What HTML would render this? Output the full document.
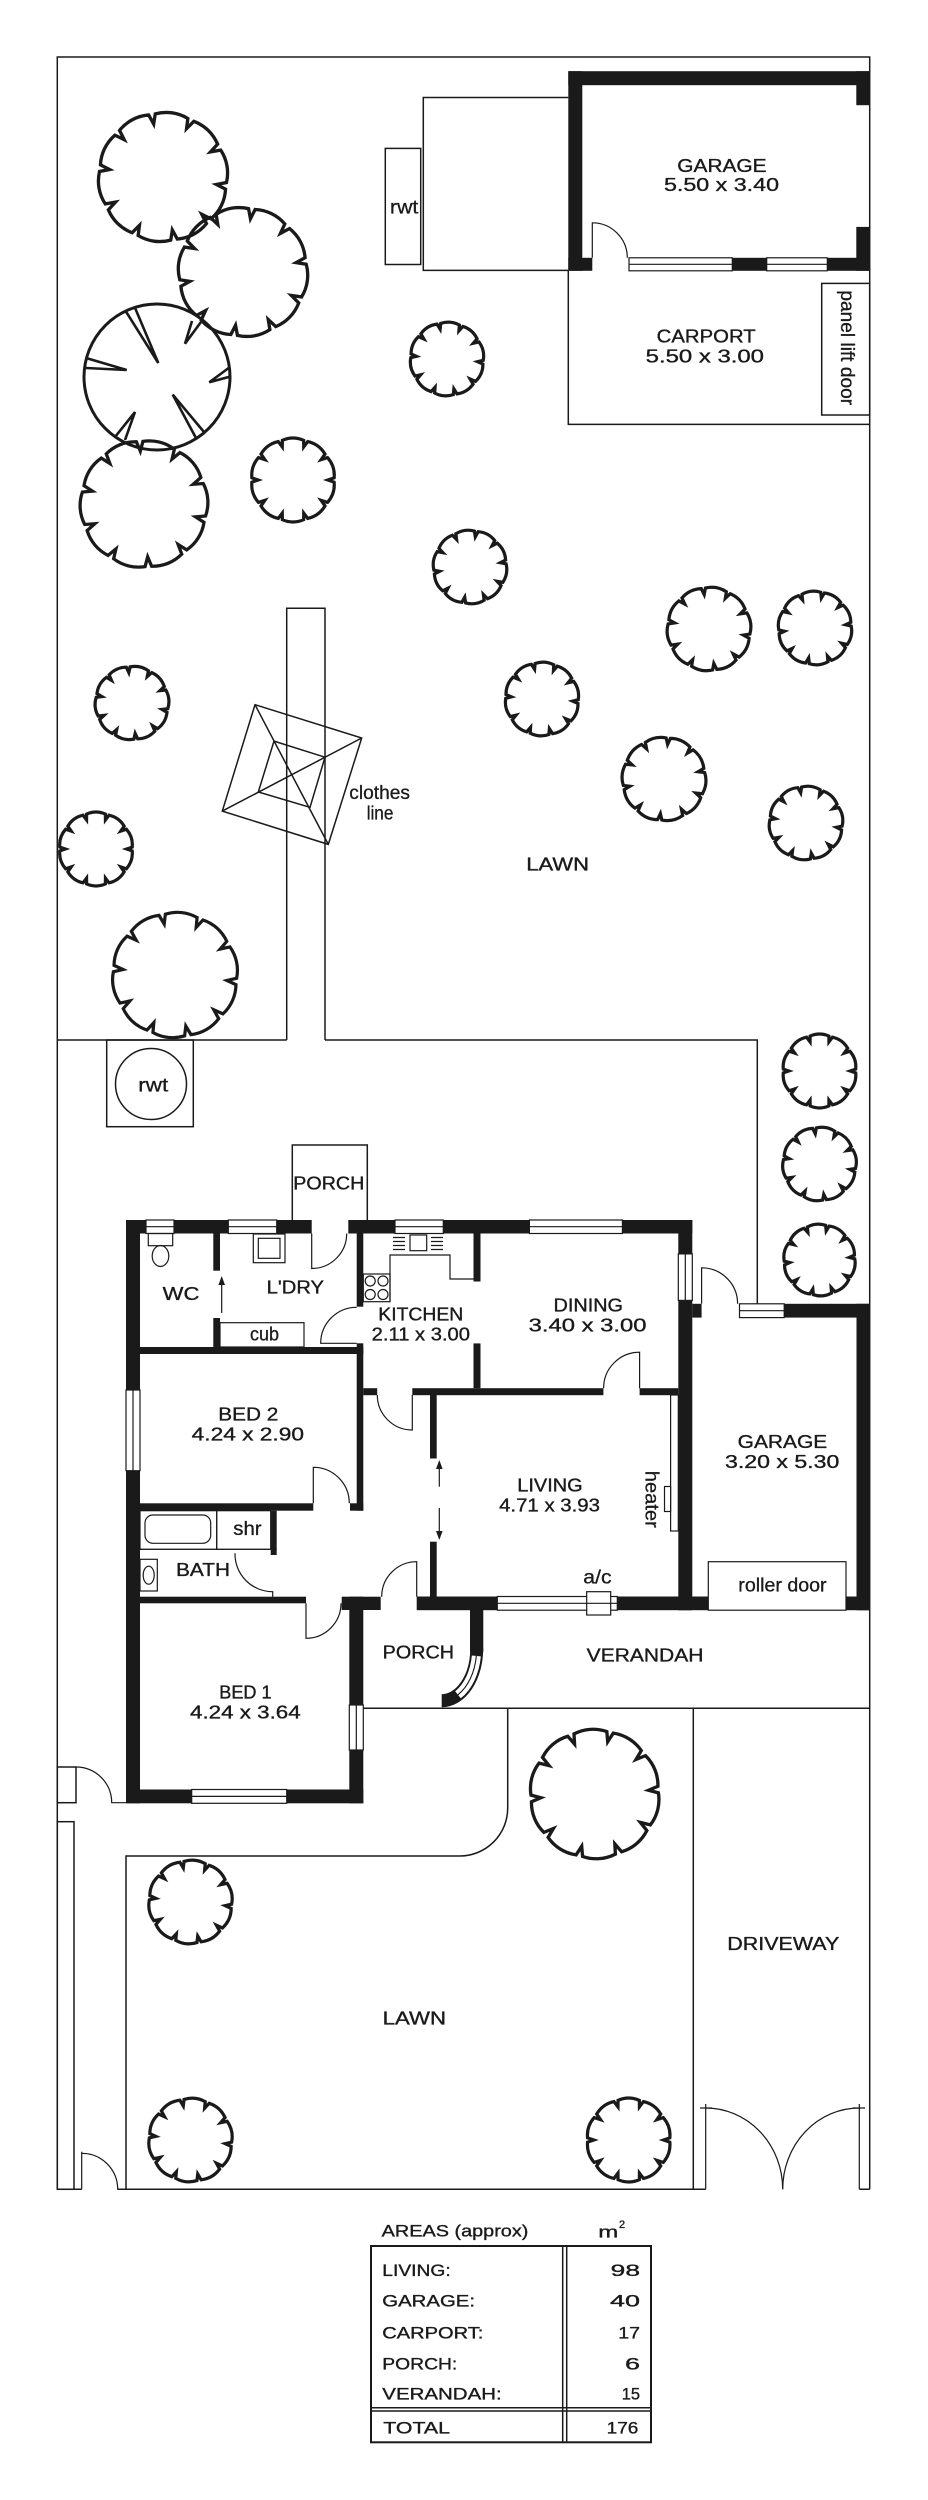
<!DOCTYPE html>
<html>
<head>
<meta charset="utf-8">
<style>
html,body{margin:0;padding:0;background:#fff;}
svg{display:block;}
.t{font-family:"Liberation Sans",sans-serif;font-size:18px;fill:#1a1a1a;stroke:#1a1a1a;stroke-width:0.35;}
.s{font-family:"Liberation Sans",sans-serif;font-size:19px;fill:#1a1a1a;stroke:#1a1a1a;stroke-width:0.3;}
.tb{font-family:"Liberation Sans",sans-serif;font-size:17px;fill:#1a1a1a;stroke:#1a1a1a;stroke-width:0.35;}
.ln{fill:none;stroke:#1a1a1a;stroke-width:1.5;}
.th{fill:none;stroke:#1a1a1a;stroke-width:1.2;}
.w{fill:#1a1a1a;}
.win{fill:#fff;stroke:#1a1a1a;stroke-width:1.2;}
</style>
</head>
<body>
<svg width="928" height="2500" viewBox="0 0 928 2500" xmlns="http://www.w3.org/2000/svg">
<defs>
<path id="tr" fill="none" stroke="#1a1a1a" stroke-linejoin="miter" d="M46,2.4 A30,30 0 0 1 38.6,25.1 L31.5,22.8 L35.8,29 A30,30 0 0 1 16.5,43 L12,37 L11.9,44.4 A30,30 0 0 1 -11.9,44.4 L-12,37 L-16.5,43 A30,30 0 0 1 -35.8,29 L-31.5,22.8 L-38.6,25.1 A30,30 0 0 1 -46,2.4 L-39,0 L-46,-2.4 A30,30 0 0 1 -38.6,-25.1 L-31.5,-22.8 L-35.8,-29 A30,30 0 0 1 -16.5,-43 L-12,-37 L-11.9,-44.4 A30,30 0 0 1 11.9,-44.4 L12,-37 L16.5,-43 A30,30 0 0 1 35.8,-29 L31.5,-22.8 L38.6,-25.1 A30,30 0 0 1 46,-2.4 L39,0 Z"/>
</defs>

<!-- Boundary -->
<path class="ln" d="M57.3,2189.3 V57 H869.7 V2189.3"/>

<!-- Rear garage -->
<rect class="w" x="568.3" y="71.2" width="301.4" height="14"/>
<rect class="w" x="568.3" y="71.2" width="14" height="199.6"/>
<rect class="w" x="856.3" y="71.2" width="13.4" height="34"/>
<rect class="w" x="856.3" y="226.9" width="13.4" height="43.9"/>
<rect class="w" x="568.3" y="257.8" width="24" height="13"/>
<rect class="w" x="629" y="257.8" width="240.7" height="13"/>
<rect class="win" x="629" y="257.8" width="103.3" height="13"/>
<line class="th" x1="629" y1="264.3" x2="732.3" y2="264.3"/>
<rect class="win" x="766.7" y="257.8" width="60.6" height="13"/>
<line class="th" x1="766.7" y1="264.3" x2="827.3" y2="264.3"/>
<path class="th" d="M592.3,257.8 V222.8 A35,35 0 0 1 627.3,257.8"/>
<text class="t" x="677.3" y="171.9" textLength="89.3" lengthAdjust="spacingAndGlyphs">GARAGE</text>
<text class="t" x="664" y="191" textLength="115" lengthAdjust="spacingAndGlyphs">5.50 x 3.40</text>

<!-- rear structure + rwt -->
<path class="ln" d="M568.3,97.5 H423.3 V270.4 H568.3"/>
<rect class="ln" x="385.3" y="148.4" width="35.4" height="116.1"/>
<text class="s" x="390" y="213.5" textLength="28.3" lengthAdjust="spacingAndGlyphs">rwt</text>

<!-- Carport -->
<path class="ln" d="M568.3,270.8 V424.4 H869.7"/>
<rect class="ln" x="821.7" y="283.4" width="48" height="131.6"/>
<text class="s" transform="translate(841,290.4) rotate(90)" x="0" y="0" textLength="114.7" lengthAdjust="spacingAndGlyphs">panel lift door</text>
<text class="t" x="656.7" y="342.7" textLength="99" lengthAdjust="spacingAndGlyphs">CARPORT</text>
<text class="t" x="645.7" y="362.3" textLength="118.3" lengthAdjust="spacingAndGlyphs">5.50 x 3.00</text>

<!-- path, lawn lines -->
<path class="ln" d="M286.7,1040 V608.3 H325 V1040"/>
<path class="ln" d="M57.3,1040 H286.7"/>
<path class="ln" d="M325,1040 H757.3 V1304"/>

<!-- rwt box -->
<rect class="ln" x="106.7" y="1040" width="86.6" height="86.7"/>
<circle class="ln" cx="151" cy="1084" r="35.5"/>
<text class="s" x="138.3" y="1091.7" textLength="30" lengthAdjust="spacingAndGlyphs">rwt</text>

<!-- clothes line -->
<polygon class="ln" points="255,704.7 361.7,738 328.3,844.4 222.3,811.1"/>
<polygon class="ln" points="274,741.1 325,757.2 310,807.3 258.3,792"/>
<line class="ln" x1="255" y1="704.7" x2="328.3" y2="844.4"/>
<line class="ln" x1="361.7" y1="738" x2="222.3" y2="811.1"/>
<text class="s" x="349.3" y="799" textLength="60.7" lengthAdjust="spacingAndGlyphs">clothes</text>
<text class="s" x="366.7" y="819.5" textLength="26.7" lengthAdjust="spacingAndGlyphs">line</text>

<text class="t" x="526.3" y="870.5" textLength="62.7" lengthAdjust="spacingAndGlyphs">LAWN</text>

<!-- Trees rear -->
<use href="#tr" transform="translate(163,177) scale(1.383) rotate(8)" stroke-width="2.4"/>
<use href="#tr" transform="translate(243,272) scale(1.383) rotate(-10)" stroke-width="2.4"/>
<use href="#tr" transform="translate(144,504) scale(1.362) rotate(14)" stroke-width="2.4"/>
<use href="#tr" transform="translate(293,480) scale(0.894)" stroke-width="3.6"/>
<use href="#tr" transform="translate(447,359) scale(0.787) rotate(5)" stroke-width="4.1"/>
<use href="#tr" transform="translate(470,567) scale(0.787) rotate(-8)" stroke-width="4.1"/>
<use href="#tr" transform="translate(132,703) scale(0.787) rotate(12)" stroke-width="4.1"/>
<use href="#tr" transform="translate(96,849) scale(0.787)" stroke-width="4.1"/>
<use href="#tr" transform="translate(175,975) scale(1.34) rotate(6)" stroke-width="2.4"/>
<use href="#tr" transform="translate(709,629) scale(0.894) rotate(10)" stroke-width="3.6"/>
<use href="#tr" transform="translate(815,628) scale(0.787) rotate(-6)" stroke-width="4.1"/>
<use href="#tr" transform="translate(542,699) scale(0.787) rotate(4)" stroke-width="4.1"/>
<use href="#tr" transform="translate(664,779) scale(0.894) rotate(-12)" stroke-width="3.6"/>
<use href="#tr" transform="translate(806,823) scale(0.787) rotate(8)" stroke-width="4.1"/>
<use href="#tr" transform="translate(819.5,1071) scale(0.787)" stroke-width="4.1"/>
<use href="#tr" transform="translate(819.5,1164) scale(0.787) rotate(10)" stroke-width="4.1"/>
<use href="#tr" transform="translate(819.5,1260) scale(0.766) rotate(-5)" stroke-width="4.2"/>

<!-- Lily tree -->
<circle cx="157" cy="377" r="73" fill="none" stroke="#1a1a1a" stroke-width="3"/>
<g fill="none" stroke="#1a1a1a" stroke-width="2.6" stroke-linejoin="miter">
<polyline points="125.6,311 158.3,363 134.4,306.4"/>
<polyline points="192,321 185,343.7 201,322"/>
<polyline points="86,358 126.7,370 86,368"/>
<polyline points="230,367 209.3,382.3 230,376.6"/>
<polyline points="196,438 172.7,394.6 204,432"/>
<polyline points="115,437 135,412 125,440"/>
</g>

<!-- ================= HOUSE ================= -->
<!-- rear porch -->
<path class="ln" d="M292.3,1220 V1145 H367.3 V1220"/>
<text class="t" x="293.3" y="1189.3" textLength="71" lengthAdjust="spacingAndGlyphs">PORCH</text>

<!-- exterior walls -->
<rect class="w" x="126" y="1220" width="185.7" height="13.5"/>
<rect class="w" x="348.3" y="1220" width="344" height="13.5"/>
<rect class="w" x="678.3" y="1220" width="14" height="390.3"/>
<rect class="w" x="692.3" y="1303.8" width="9.3" height="13.8"/>
<rect class="w" x="739.5" y="1303.8" width="130.5" height="13.8"/>
<rect class="w" x="856.5" y="1303.8" width="13.5" height="306.5"/>
<rect class="w" x="416.7" y="1596.5" width="453.3" height="13.7"/>
<rect class="w" x="341.7" y="1596.7" width="39" height="13.3"/>
<rect class="w" x="126" y="1220" width="14" height="583.3"/>
<rect class="w" x="126" y="1789.5" width="237.3" height="13.8"/>
<rect class="w" x="349.3" y="1596.7" width="14" height="206.6"/>
<rect class="w" x="470" y="1596.5" width="13.3" height="55.2"/>
<!-- curved porch wall -->
<path d="M476.7,1648 A35,52 0 0 1 441.7,1700.7" fill="none" stroke="#1a1a1a" stroke-width="13"/>
<path d="M476.7,1648 A35,52 0 0 1 441.7,1700.7" fill="none" stroke="#fff" stroke-width="9" stroke-dasharray="0 8 44 100"/>
<path d="M476.7,1648 A35,52 0 0 1 441.7,1700.7" fill="none" stroke="#1a1a1a" stroke-width="1.1" stroke-dasharray="0 8 44 100"/>

<!-- windows -->
<rect class="win" x="146" y="1220" width="28" height="13.5"/><line class="th" x1="146" y1="1226.7" x2="174" y2="1226.7"/>
<rect class="win" x="228.3" y="1220" width="48.4" height="13.5"/><line class="th" x1="228.3" y1="1226.7" x2="276.7" y2="1226.7"/>
<rect class="win" x="395" y="1220" width="48.3" height="13.5"/><line class="th" x1="395" y1="1226.7" x2="443.3" y2="1226.7"/>
<rect class="win" x="529.4" y="1220" width="93" height="13.5"/><line class="th" x1="529.4" y1="1226.7" x2="622.4" y2="1226.7"/>
<rect class="win" x="678.3" y="1253.9" width="14" height="46.5"/><line class="th" x1="685.3" y1="1253.9" x2="685.3" y2="1300.4"/>
<rect class="win" x="739.5" y="1303.8" width="44.7" height="13.8"/><line class="th" x1="739.5" y1="1310.7" x2="784.2" y2="1310.7"/>
<rect class="win" x="497.3" y="1596.5" width="120" height="13.7"/><line class="th" x1="497.3" y1="1603.3" x2="617.3" y2="1603.3"/>
<rect class="win" x="126" y="1390" width="14" height="80.7"/><line class="th" x1="133" y1="1390" x2="133" y2="1470.7"/>
<rect class="win" x="191.7" y="1789.5" width="95" height="13.8"/><line class="th" x1="191.7" y1="1796.4" x2="286.7" y2="1796.4"/>
<rect class="win" x="349.3" y="1705" width="14" height="45"/><line class="th" x1="356.3" y1="1705" x2="356.3" y2="1750"/>

<!-- roller door & a/c -->
<rect class="win" x="708.3" y="1561.7" width="137.7" height="48.5"/>
<text class="s" x="738.3" y="1591.7" textLength="88.3" lengthAdjust="spacingAndGlyphs">roller door</text>
<rect class="win" x="586.7" y="1591.7" width="24" height="23.3"/>
<line class="th" x1="586.7" y1="1603.3" x2="610.7" y2="1603.3"/>
<text class="s" x="583.3" y="1583.3" textLength="28.3" lengthAdjust="spacingAndGlyphs">a/c</text>

<!-- interior walls -->
<rect class="w" x="213.3" y="1233.5" width="6.7" height="37.2"/>
<rect class="w" x="213.3" y="1318" width="6.7" height="29"/>
<rect class="w" x="140" y="1347" width="223.3" height="7"/>
<rect class="w" x="356.7" y="1233.5" width="6.6" height="73.2"/>
<rect class="w" x="356.7" y="1343.3" width="6.6" height="167.4"/>
<rect class="w" x="363.3" y="1388.2" width="13.9" height="7"/>
<rect class="w" x="412.3" y="1388.2" width="191.1" height="7"/>
<rect class="w" x="639.6" y="1388.2" width="38.7" height="7"/>
<rect class="w" x="473.5" y="1233.5" width="7" height="48"/>
<rect class="w" x="473.5" y="1343.4" width="7" height="44.8"/>
<rect class="w" x="430" y="1395" width="6.7" height="63.5"/>
<rect class="w" x="430" y="1541.7" width="6.7" height="54.8"/>
<rect class="w" x="140" y="1503.3" width="173.3" height="7.4"/>
<rect class="w" x="350" y="1503.3" width="13.3" height="7.4"/>
<rect class="w" x="270.7" y="1510.7" width="6" height="44.3"/>
<rect class="w" x="140" y="1596.7" width="166" height="6.6"/>

<!-- doors -->
<path class="th" d="M311.7,1233.5 V1268.5 A35,35 0 0 0 346.7,1233.5"/>
<path class="th" d="M356.7,1343.3 H320.7 A36,36 0 0 1 356.7,1307.3"/>
<path class="th" d="M412.3,1395 V1430 A35,35 0 0 1 377.3,1395"/>
<path class="th" d="M639.6,1388.2 V1352.2 A36,36 0 0 0 603.6,1388.2"/>
<path class="th" d="M313.3,1503.3 V1467.3 A36,36 0 0 1 349.3,1503.3"/>
<path class="th" d="M235,1553.3 A37.7,37.7 0 0 0 272.7,1591.7 V1596.7"/>
<path class="th" d="M306,1603.3 V1638.3 A35,35 0 0 0 341,1603.3"/>
<path class="th" d="M416.7,1596.7 V1561.7 A35,35 0 0 0 381.7,1596.7"/>
<path class="th" d="M701.6,1303.8 V1267.8 A36,36 0 0 1 737.6,1303.8"/>

<!-- sliding door arrows -->
<line class="th" x1="221.7" y1="1313" x2="221.7" y2="1282"/>
<polygon points="221.7,1276 218.4,1285 225,1285" fill="#1a1a1a"/>
<line class="th" x1="439.3" y1="1486.7" x2="439.3" y2="1466"/>
<polygon points="439.3,1460 436,1469 442.6,1469" fill="#1a1a1a"/>
<line class="th" x1="439.3" y1="1508" x2="439.3" y2="1534"/>
<polygon points="439.3,1540 436,1531 442.6,1531" fill="#1a1a1a"/>

<!-- WC / laundry fixtures -->
<rect class="th" x="148.3" y="1233.5" width="24.4" height="12.2"/>
<ellipse class="th" cx="160.5" cy="1256" rx="8.3" ry="10.5"/>
<rect class="th" x="253.3" y="1234" width="31.7" height="28.7"/>
<rect class="th" x="258.3" y="1238.3" width="21.7" height="20"/>
<rect class="th" x="220" y="1322.7" width="84" height="24.3"/>
<text class="s" x="250" y="1340.7" textLength="29" lengthAdjust="spacingAndGlyphs">cub</text>
<text class="t" x="162.7" y="1300" textLength="36.7" lengthAdjust="spacingAndGlyphs">WC</text>
<text class="t" x="266.7" y="1293.3" textLength="57.3" lengthAdjust="spacingAndGlyphs">L'DRY</text>

<!-- kitchen fixtures -->
<path class="th" d="M390,1301.7 V1255 H450 V1279 H473.5"/>
<rect class="th" x="363.3" y="1274" width="26.7" height="27.7"/>
<circle class="th" cx="370.2" cy="1281" r="5"/>
<circle class="th" cx="383" cy="1281" r="5"/>
<circle class="th" cx="370.2" cy="1294.5" r="5"/>
<circle class="th" cx="383" cy="1294.5" r="5"/>
<rect class="th" x="410" y="1235" width="16.7" height="15.7"/>
<path class="th" d="M393,1237.5 H405 M393,1241.5 H405 M393,1245.5 H405 M393,1249.5 H405 M431,1237.5 H443 M431,1241.5 H443 M431,1245.5 H443 M431,1249.5 H443"/>
<text class="t" x="378.3" y="1320.7" textLength="85" lengthAdjust="spacingAndGlyphs">KITCHEN</text>
<text class="t" x="371.7" y="1340.7" textLength="98.3" lengthAdjust="spacingAndGlyphs">2.11 x 3.00</text>

<text class="t" x="553.5" y="1311.4" textLength="69.5" lengthAdjust="spacingAndGlyphs">DINING</text>
<text class="t" x="528.7" y="1331.4" textLength="117.8" lengthAdjust="spacingAndGlyphs">3.40 x 3.00</text>

<text class="t" x="218.3" y="1420.7" textLength="60" lengthAdjust="spacingAndGlyphs">BED 2</text>
<text class="t" x="191.7" y="1440.7" textLength="112.3" lengthAdjust="spacingAndGlyphs">4.24 x 2.90</text>

<text class="t" x="517.3" y="1491.5" textLength="65.4" lengthAdjust="spacingAndGlyphs">LIVING</text>
<text class="t" x="499.1" y="1511.5" textLength="100.9" lengthAdjust="spacingAndGlyphs">4.71 x 3.93</text>

<!-- heater -->
<rect class="win" x="670.6" y="1395" width="7.7" height="136"/>
<rect class="win" x="664.5" y="1486.5" width="6.1" height="25"/>
<text class="s" transform="translate(645.5,1470.8) rotate(90)" x="0" y="0" textLength="57" lengthAdjust="spacingAndGlyphs">heater</text>

<text class="t" x="737.7" y="1447.8" textLength="89.5" lengthAdjust="spacingAndGlyphs">GARAGE</text>
<text class="t" x="725" y="1468" textLength="114.3" lengthAdjust="spacingAndGlyphs">3.20 x 5.30</text>

<!-- bath fixtures -->
<rect class="th" x="140" y="1510.7" width="76.7" height="38.6"/>
<rect class="th" x="145" y="1515" width="65.7" height="28.3" rx="8" ry="8"/>
<rect class="th" x="216.7" y="1510.7" width="54" height="38.6"/>
<line class="th" x1="140" y1="1549.3" x2="276.7" y2="1549.3"/>
<text class="s" x="233.3" y="1535" textLength="28.3" lengthAdjust="spacingAndGlyphs">shr</text>
<rect class="th" x="140" y="1559.3" width="17.3" height="31.7"/>
<ellipse class="th" cx="148.7" cy="1575.2" rx="5.5" ry="9"/>
<text class="t" x="176" y="1576" textLength="54" lengthAdjust="spacingAndGlyphs">BATH</text>

<text class="t" x="219.3" y="1698.3" textLength="52.3" lengthAdjust="spacingAndGlyphs">BED 1</text>
<text class="t" x="190" y="1718.3" textLength="110.7" lengthAdjust="spacingAndGlyphs">4.24 x 3.64</text>

<text class="t" x="382.7" y="1658.3" textLength="71.3" lengthAdjust="spacingAndGlyphs">PORCH</text>

<!-- verandah -->
<path class="ln" d="M363.3,1708.3 H870"/>
<text class="t" x="586.7" y="1661.7" textLength="116.7" lengthAdjust="spacingAndGlyphs">VERANDAH</text>

<!-- front lawn / driveway -->
<path class="ln" d="M507.7,1708.3 V1808 A48,48 0 0 1 459.7,1856 H126 V2189.3"/>
<path class="ln" d="M693.3,1708.3 V2189.3"/>
<path class="ln" d="M57.3,2189.3 H81.7 M117.3,2189.3 H705.7 M859.3,2189.3 H869.7"/>
<text class="t" x="727.3" y="1950" textLength="112" lengthAdjust="spacingAndGlyphs">DRIVEWAY</text>
<text class="t" x="382.7" y="2024.3" textLength="63.3" lengthAdjust="spacingAndGlyphs">LAWN</text>

<!-- left side gates / strip -->
<rect class="ln" x="57.3" y="1767" width="18.7" height="35.7"/>
<path class="th" d="M76,1767 A35.7,35.7 0 0 1 111.7,1802.7 H126"/>
<rect class="ln" x="57.3" y="1821.7" width="16.7" height="367.6"/>
<path class="th" d="M81.7,2189.3 V2151.7 M81.7,2153.3 A36,36 0 0 1 117.7,2189.3"/>

<!-- driveway gates -->
<path class="th" d="M705.7,2189.3 V2104 M700,2108 H712 M705.7,2108 A77,81.3 0 0 1 782.7,2189.3"/>
<path class="th" d="M859.3,2189.3 V2104 M853,2108 H865 M859.3,2108 A76.6,81.3 0 0 0 782.7,2189.3"/>

<!-- front trees -->
<use href="#tr" transform="translate(594.7,1794) scale(1.383) rotate(-4)" stroke-width="2.4"/>
<use href="#tr" transform="translate(190.5,1902) scale(0.894) rotate(6)" stroke-width="3.6"/>
<use href="#tr" transform="translate(190.5,2140) scale(0.894) rotate(6)" stroke-width="3.6"/>
<use href="#tr" transform="translate(628.7,2140) scale(0.894)" stroke-width="3.6"/>

<!-- ============ Areas table ============ -->
<text class="tb" x="381.7" y="2236.7" textLength="146.7" lengthAdjust="spacingAndGlyphs">AREAS (approx)</text>
<text class="tb" x="598.3" y="2237.3" textLength="20" lengthAdjust="spacingAndGlyphs">m</text>
<text class="tb" x="619" y="2228" style="font-size:11px">2</text>
<rect x="371" y="2246" width="280" height="196.3" fill="none" stroke="#1a1a1a" stroke-width="2"/>
<line class="ln" x1="562.7" y1="2246" x2="562.7" y2="2442.3"/>
<line class="ln" x1="566.7" y1="2246" x2="566.7" y2="2442.3"/>
<line class="ln" x1="371" y1="2407.7" x2="651" y2="2407.7"/>
<line class="ln" x1="371" y1="2411" x2="651" y2="2411"/>
<text class="tb" x="382.3" y="2276" textLength="68.4" lengthAdjust="spacingAndGlyphs">LIVING:</text>
<text class="tb" x="382.3" y="2306.7" textLength="92.7" lengthAdjust="spacingAndGlyphs">GARAGE:</text>
<text class="tb" x="382.3" y="2338.3" textLength="101" lengthAdjust="spacingAndGlyphs">CARPORT:</text>
<text class="tb" x="382.3" y="2369.3" textLength="75" lengthAdjust="spacingAndGlyphs">PORCH:</text>
<text class="tb" x="382.3" y="2399.3" textLength="119.4" lengthAdjust="spacingAndGlyphs">VERANDAH:</text>
<text class="tb" x="383.3" y="2433.3" textLength="66.7" lengthAdjust="spacingAndGlyphs">TOTAL</text>
<text class="tb" x="610.7" y="2276" textLength="29.3" lengthAdjust="spacingAndGlyphs">98</text>
<text class="tb" x="610" y="2306.7" textLength="30" lengthAdjust="spacingAndGlyphs">40</text>
<text class="tb" x="618.3" y="2338.3" textLength="21.7" lengthAdjust="spacingAndGlyphs">17</text>
<text class="tb" x="625" y="2369.3" textLength="15" lengthAdjust="spacingAndGlyphs">6</text>
<text class="tb" x="621.7" y="2399.3" textLength="18.3" lengthAdjust="spacingAndGlyphs">15</text>
<text class="tb" x="606.7" y="2433.3" textLength="31.7" lengthAdjust="spacingAndGlyphs">176</text>
</svg>
</body>
</html>
